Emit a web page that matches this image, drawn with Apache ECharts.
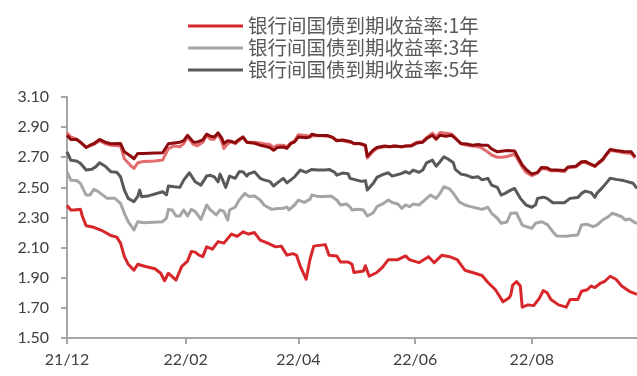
<!DOCTYPE html>
<html>
<head>
<meta charset="utf-8">
<script src="https://cdn.jsdelivr.net/npm/echarts@6/dist/echarts.min.js"></script>
<style>
  html, body { margin: 0; padding: 0; background: #fff; }
  #chart { width: 637px; height: 376px; }
</style>
</head>
<body>
<div id="chart"></div>
<script>
// Interbank government bond yields (%), Dec 2021 - Sep 2022.
// Each series is sampled at day offsets counted from 2021-12-01.
const startDate = '2021-12-01';
const endDate = '2022-09-25';

const legendNames = ['银行间国债到期收益率:1年', '银行间国债到期收益率:3年', '银行间国债到期收益率:5年'];
const hiddenNames = ['银行间国债到期收益率:7年', '银行间国债到期收益率:10年'];
const monthTicks = ['12', '02', '04', '06', '08'];

const days1Y = [0,2,4,7,8,10,14,18,23,26,28,30,32,35,37,41,46,49,51,53,57,60,63,65,67,69,71,73,76,79,82,86,89,92,95,98,101,105,109,112,115,118,120,122,125,127,129,135,137,141,143,147,149,150,155,156,158,162,165,168,173,177,179,184,189,192,196,200,204,208,212,217,220,224,228,231,232,233,235,237,238,241,244,247,249,251,253,257,261,263,267,269,272,274,276,279,281,284,287,290,294,297,298];
const rate1Y = [2.38,2.35,2.35,2.355,2.31,2.245,2.235,2.215,2.18,2.17,2.13,2.04,1.99,1.95,1.99,1.975,1.96,1.93,1.88,1.93,1.885,1.975,2.01,2.075,2.07,2.05,2.04,2.105,2.09,2.14,2.13,2.19,2.175,2.205,2.19,2.2,2.15,2.13,2.105,2.11,2.05,2.06,2.05,1.975,1.89,2.02,2.11,2.12,2.05,2.045,2.005,2.005,1.99,1.935,1.945,1.98,1.91,1.935,1.97,2.02,2.02,2.045,2.02,2.0,2.04,2.0,2.05,2.04,2.02,1.95,1.935,1.915,1.87,1.82,1.74,1.765,1.785,1.85,1.875,1.845,1.705,1.72,1.715,1.765,1.815,1.80,1.755,1.72,1.705,1.755,1.755,1.81,1.82,1.845,1.835,1.865,1.875,1.91,1.89,1.845,1.81,1.795,1.79];

const days3Y = [0,2,5,7,10,12,14,16,21,25,28,30,32,35,37,40,50,52,53,55,57,59,61,63,65,67,70,73,75,78,80,82,84,85,88,89,90,93,95,98,101,103,107,110,113,115,116,119,121,124,127,128,131,135,138,141,143,146,148,149,152,155,156,157,160,162,165,168,170,173,175,177,179,181,184,187,190,193,195,197,200,202,205,208,211,215,217,220,222,225,227,230,232,233,235,238,240,243,245,246,248,251,254,256,261,264,267,269,272,275,277,280,283,285,287,290,292,294,297,298];
const rate3Y = [2.603,2.548,2.545,2.527,2.449,2.449,2.487,2.475,2.427,2.427,2.394,2.328,2.272,2.217,2.272,2.265,2.272,2.295,2.354,2.35,2.31,2.31,2.35,2.31,2.354,2.34,2.287,2.383,2.35,2.317,2.35,2.34,2.283,2.35,2.37,2.37,2.416,2.46,2.44,2.442,2.416,2.383,2.354,2.36,2.36,2.37,2.35,2.383,2.416,2.40,2.42,2.449,2.44,2.44,2.442,2.416,2.383,2.39,2.37,2.35,2.355,2.35,2.35,2.31,2.33,2.372,2.39,2.416,2.40,2.39,2.361,2.383,2.372,2.39,2.383,2.416,2.449,2.427,2.46,2.504,2.49,2.46,2.405,2.383,2.372,2.36,2.354,2.368,2.328,2.295,2.262,2.27,2.328,2.338,2.33,2.25,2.24,2.228,2.262,2.255,2.272,2.255,2.206,2.177,2.175,2.18,2.184,2.25,2.255,2.239,2.25,2.283,2.305,2.328,2.32,2.305,2.283,2.29,2.266,2.262];

const days5Y = [0,2,5,7,10,13,15,17,20,23,26,28,30,32,35,37,38,39,43,50,52,53,56,59,61,64,67,70,73,75,77,79,80,81,83,85,88,90,92,94,95,98,101,103,106,108,110,113,115,119,122,125,128,131,135,137,140,141,144,147,148,151,154,156,157,160,162,165,168,170,173,175,177,179,181,184,186,188,191,193,195,197,199,202,203,206,209,212,215,217,220,222,225,227,229,232,234,235,237,240,243,245,246,249,251,254,260,263,267,269,271,274,276,277,280,282,284,287,291,296,298];
const rate5Y = [2.736,2.68,2.675,2.66,2.615,2.62,2.636,2.663,2.64,2.603,2.60,2.57,2.482,2.427,2.405,2.44,2.482,2.438,2.445,2.471,2.45,2.509,2.504,2.50,2.548,2.597,2.537,2.515,2.575,2.58,2.57,2.537,2.588,2.56,2.50,2.575,2.56,2.603,2.603,2.575,2.59,2.603,2.56,2.55,2.54,2.509,2.53,2.56,2.53,2.57,2.615,2.60,2.619,2.615,2.615,2.619,2.60,2.581,2.595,2.59,2.56,2.55,2.54,2.545,2.482,2.525,2.566,2.585,2.597,2.575,2.585,2.593,2.605,2.593,2.615,2.60,2.615,2.663,2.681,2.64,2.67,2.703,2.69,2.663,2.619,2.588,2.58,2.565,2.57,2.55,2.56,2.515,2.50,2.449,2.46,2.482,2.493,2.493,2.427,2.383,2.368,2.385,2.427,2.435,2.427,2.398,2.398,2.427,2.432,2.46,2.475,2.465,2.434,2.46,2.50,2.53,2.56,2.553,2.545,2.527,2.493];

// 7-year and 10-year tenors share the same sampling days
const daysLong = [0,2,5,7,10,12,14,17,20,23,28,30,33,35,37,40,46,50,53,56,59,61,63,66,68,71,73,75,77,79,81,82,84,86,88,89,92,94,95,98,101,103,106,108,110,113,115,117,119,121,125,127,128,131,136,139,141,144,148,150,153,156,157,158,160,162,166,169,171,175,177,180,183,186,188,191,193,195,198,201,203,206,209,212,215,217,220,222,225,228,230,234,235,238,240,243,246,248,251,253,256,260,262,266,269,271,273,276,278,280,282,284,287,291,295,297];
const rate10Y = [2.846,2.818,2.818,2.80,2.765,2.78,2.79,2.818,2.80,2.79,2.791,2.736,2.71,2.69,2.725,2.725,2.728,2.73,2.79,2.795,2.80,2.81,2.846,2.802,2.80,2.815,2.853,2.84,2.835,2.862,2.825,2.791,2.81,2.805,2.795,2.81,2.835,2.80,2.79,2.793,2.78,2.775,2.765,2.747,2.765,2.768,2.76,2.791,2.802,2.835,2.83,2.835,2.853,2.845,2.845,2.831,2.809,2.815,2.805,2.791,2.791,2.78,2.707,2.714,2.747,2.765,2.775,2.77,2.775,2.769,2.775,2.775,2.795,2.80,2.824,2.846,2.82,2.846,2.84,2.846,2.825,2.791,2.788,2.78,2.784,2.78,2.78,2.755,2.736,2.742,2.745,2.742,2.735,2.648,2.62,2.588,2.60,2.632,2.63,2.615,2.615,2.612,2.636,2.64,2.67,2.672,2.66,2.641,2.665,2.685,2.72,2.752,2.745,2.738,2.736,2.703];
const rate7Y = [2.862,2.835,2.82,2.80,2.765,2.775,2.785,2.81,2.79,2.78,2.775,2.69,2.648,2.626,2.663,2.672,2.675,2.681,2.758,2.775,2.77,2.79,2.835,2.785,2.775,2.80,2.845,2.82,2.82,2.855,2.80,2.758,2.79,2.80,2.79,2.80,2.83,2.80,2.795,2.80,2.795,2.79,2.785,2.765,2.78,2.78,2.77,2.795,2.81,2.85,2.845,2.84,2.85,2.845,2.84,2.83,2.815,2.81,2.80,2.79,2.79,2.775,2.695,2.705,2.74,2.76,2.77,2.77,2.775,2.77,2.775,2.78,2.80,2.805,2.83,2.86,2.835,2.865,2.86,2.855,2.83,2.79,2.78,2.775,2.77,2.76,2.735,2.715,2.70,2.70,2.705,2.72,2.70,2.636,2.60,2.578,2.595,2.625,2.62,2.61,2.61,2.605,2.63,2.635,2.665,2.665,2.655,2.64,2.66,2.68,2.715,2.745,2.74,2.73,2.725,2.695];

// Calendar-day categories for the x axis
function buildCalendar(from, to) {
  const out = [];
  const d = new Date(from + 'T00:00:00Z');
  const end = new Date(to + 'T00:00:00Z');
  while (d <= end) {
    const yy = String(d.getUTCFullYear()).slice(2);
    const mm = String(d.getUTCMonth() + 1).padStart(2, '0');
    const dd = String(d.getUTCDate()).padStart(2, '0');
    out.push(yy + '/' + mm + '/' + dd);
    d.setUTCDate(d.getUTCDate() + 1);
  }
  return out;
}
const calendar = buildCalendar(startDate, endDate);
const isMarked = (idx, val) => val.endsWith('/01') && monthTicks.includes(val.slice(3, 5));

const pair = (days, vals) => days.map((d, i) => [d, vals[i]]);

const axisGray = '#a6a6a6';
const textGray = '#404040';
const numFont = 'Lato, "Liberation Sans", sans-serif';

const chart = echarts.init(document.getElementById('chart'), null, { renderer: 'canvas' });

function lineSeries(name, data, color, z) {
  return {
    name, type: 'line', data, symbol: 'none', z,
    lineStyle: { color, width: 3, join: 'round' },
    itemStyle: { color },
    animation: false
  };
}

chart.setOption({
  animation: false,
  backgroundColor: '#ffffff',
  grid: { left: 67, right: 0, top: 97, bottom: 38, containLabel: false },
  legend: {
    data: legendNames,
    orient: 'vertical',
    left: 183,
    top: 10,
    icon: 'rect',
    itemWidth: 55,
    itemHeight: 3,
    itemGap: 0,
    textStyle: { fontFamily: '"Noto Sans CJK SC", sans-serif', fontSize: 19.5, color: '#595959', lineHeight: 22 }
  },
  xAxis: {
    type: 'category',
    data: calendar,
    boundaryGap: false,
    axisLine: { lineStyle: { color: axisGray, width: 2 } },
    axisTick: { show: true, interval: isMarked, length: 6, lineStyle: { color: axisGray, width: 2 } },
    axisLabel: {
      interval: isMarked,
      margin: 14,
      formatter: v => v.slice(0, 5),
      color: textGray,
      fontFamily: numFont,
      fontSize: 16
    },
    splitLine: { show: false }
  },
  yAxis: {
    type: 'value',
    min: 1.5,
    max: 3.1,
    interval: 0.2,
    axisLine: { show: true, lineStyle: { color: axisGray, width: 2 } },
    axisTick: { show: true, length: 6, lineStyle: { color: axisGray, width: 2 } },
    axisLabel: {
      formatter: v => v.toFixed(2),
      margin: 18,
      color: textGray,
      fontFamily: numFont,
      fontSize: 16
    },
    splitLine: { show: false }
  },
  series: [
    lineSeries(hiddenNames[0], pair(daysLong, rate7Y), '#e46c6e', 2),
    lineSeries(hiddenNames[1], pair(daysLong, rate10Y), '#8e0b0d', 3),
    lineSeries(legendNames[2], pair(days5Y, rate5Y), '#595959', 4),
    lineSeries(legendNames[1], pair(days3Y, rate3Y), '#a5a5a5', 4),
    lineSeries(legendNames[0], pair(days1Y, rate1Y), '#d7272b', 5)
  ]
});
</script>
</body>
</html>
